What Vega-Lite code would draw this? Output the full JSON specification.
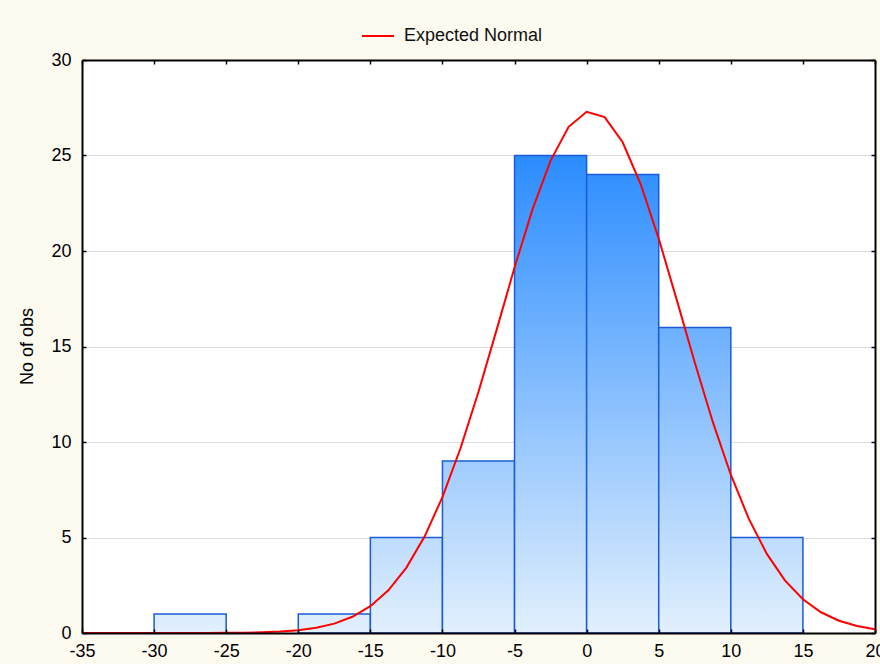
{
  "$schema": "https://vega.github.io/schema/vega-lite/v6.json",
  "autosize": {"type": "none"},
  "width": 793,
  "height": 573,
  "padding": {"left": 82, "top": 60, "right": 5, "bottom": 31},
  "background": "#fdfaf0",
  "config": {
    "view": {"fill": "#ffffff", "stroke": null},
    "font": "Liberation Sans",
    "axis": {
      "labelFont": "Liberation Sans",
      "labelFontSize": 18,
      "labelColor": "#000000",
      "titleFont": "Liberation Sans",
      "titleFontSize": 18,
      "titleFontWeight": "normal",
      "titleColor": "#000000",
      "domainColor": "#000000",
      "domainWidth": 2,
      "tickColor": "#000000",
      "tickWidth": 1.5
    },
    "legend": {
      "labelFont": "Liberation Sans",
      "labelFontSize": 18,
      "labelColor": "#111111"
    }
  },
  "datasets": {
    "bins": [
      {"bin_start": -30, "bin_end": -25, "count": 1},
      {"bin_start": -20, "bin_end": -15, "count": 1},
      {"bin_start": -15, "bin_end": -10, "count": 5},
      {"bin_start": -10, "bin_end": -5, "count": 9},
      {"bin_start": -5, "bin_end": 0, "count": 25},
      {"bin_start": 0, "bin_end": 5, "count": 24},
      {"bin_start": 5, "bin_end": 10, "count": 16},
      {"bin_start": 10, "bin_end": 15, "count": 5}
    ],
    "curve": [
      {"x": -35, "expected": 0.0000},
      {"x": -33.75, "expected": 0.0000},
      {"x": -32.5, "expected": 0.00003},
      {"x": -31.25, "expected": 0.00009},
      {"x": -30, "expected": 0.00024},
      {"x": -28.75, "expected": 0.0006},
      {"x": -27.5, "expected": 0.0015},
      {"x": -26.25, "expected": 0.0036},
      {"x": -25, "expected": 0.0082},
      {"x": -23.75, "expected": 0.0179},
      {"x": -22.5, "expected": 0.0375},
      {"x": -21.25, "expected": 0.0758},
      {"x": -20, "expected": 0.147},
      {"x": -18.75, "expected": 0.274},
      {"x": -17.5, "expected": 0.492},
      {"x": -16.25, "expected": 0.848},
      {"x": -15, "expected": 1.405},
      {"x": -13.75, "expected": 2.236},
      {"x": -12.5, "expected": 3.423},
      {"x": -11.25, "expected": 5.036},
      {"x": -10, "expected": 7.118},
      {"x": -8.75, "expected": 9.673},
      {"x": -7.5, "expected": 12.634},
      {"x": -6.25, "expected": 15.858},
      {"x": -5, "expected": 19.135},
      {"x": -3.75, "expected": 22.191},
      {"x": -2.5, "expected": 24.735},
      {"x": -1.25, "expected": 26.5},
      {"x": 0, "expected": 27.289},
      {"x": 1.25, "expected": 27.009},
      {"x": 2.5, "expected": 25.694},
      {"x": 3.75, "expected": 23.494},
      {"x": 5, "expected": 20.648},
      {"x": 6.25, "expected": 17.441},
      {"x": 7.5, "expected": 14.16},
      {"x": 8.75, "expected": 11.05},
      {"x": 10, "expected": 8.288},
      {"x": 11.25, "expected": 5.975},
      {"x": 12.5, "expected": 4.14},
      {"x": 13.75, "expected": 2.758},
      {"x": 15, "expected": 1.765},
      {"x": 16.25, "expected": 1.085},
      {"x": 17.5, "expected": 0.642},
      {"x": 18.75, "expected": 0.365},
      {"x": 20, "expected": 0.199}
    ]
  },
  "layer": [
    {
      "data": {"name": "bins"},
      "mark": {
        "type": "bar",
        "orient": "vertical",
        "stroke": "#1a5cd6",
        "strokeWidth": 1.5,
        "fill": {"expr": "{gradient: 'linear', x1: 0, y1: 1 - 25 / datum.count, x2: 0, y2: 1, stops: [{offset: 0, color: '#2b8cff'}, {offset: 1, color: '#e2f0fd'}]}"}
      },
      "encoding": {
        "x": {
          "field": "bin_start",
          "type": "quantitative",
          "scale": {"domain": [-35, 20], "nice": false, "zero": false, "padding": 0},
          "axis": {
            "orient": "bottom",
            "title": null,
            "values": [-35, -30, -25, -20, -15, -10, -5, 0, 5, 10, 15, 20],
            "labelExpr": "toString(datum.value)",
            "tickSize": -4,
            "labelPadding": 13,
            "labelFlush": false,
            "labelOverlap": false,
            "grid": false,
            "zindex": 1
          }
        },
        "x2": {"field": "bin_end"},
        "y": {
          "field": "count",
          "type": "quantitative",
          "scale": {"domain": [0, 30], "nice": false},
          "axis": {
            "orient": "left",
            "title": "No of obs",
            "titleAngle": -90,
            "titleX": -50,
            "titleY": 286,
            "titleAlign": "center",
            "titleBaseline": "alphabetic",
            "values": [0, 5, 10, 15, 20, 25, 30],
            "tickSize": -4,
            "labelPadding": 15,
            "labelFlush": false,
            "grid": false,
            "zindex": 1
          }
        },
        "y2": {"datum": 0}
      }
    },
    {
      "data": {"name": "curve"},
      "mark": {"type": "line", "strokeWidth": 2, "interpolate": "linear"},
      "encoding": {
        "x": {
          "field": "x",
          "type": "quantitative",
          "scale": {"domain": [-35, 20], "nice": false, "zero": false, "padding": 0},
          "axis": {
            "orient": "top",
            "title": null,
            "labels": false,
            "values": [-35, -30, -25, -20, -15, -10, -5, 0, 5, 10, 15, 20],
            "tickSize": -4,
            "grid": false,
            "zindex": 1
          }
        },
        "y": {
          "field": "expected",
          "type": "quantitative",
          "scale": {"domain": [0, 30], "nice": false},
          "axis": {
            "orient": "right",
            "title": null,
            "labels": false,
            "values": [0, 5, 10, 15, 20, 25, 30],
            "tickSize": -4,
            "grid": true,
            "gridColor": "#dcdcdc",
            "gridWidth": 1.2,
            "zindex": 0
          }
        },
        "color": {
          "datum": "Expected Normal",
          "type": "nominal",
          "scale": {"range": ["#ff0000"]},
          "legend": {
            "title": null,
            "orient": "none",
            "legendX": 279,
            "legendY": -41,
            "symbolType": "stroke",
            "symbolSize": 1024,
            "symbolStrokeWidth": 2,
            "labelOffset": 9,
            "padding": 0
          }
        }
      }
    }
  ],
  "resolve": {"axis": {"x": "independent", "y": "independent"}}
}
